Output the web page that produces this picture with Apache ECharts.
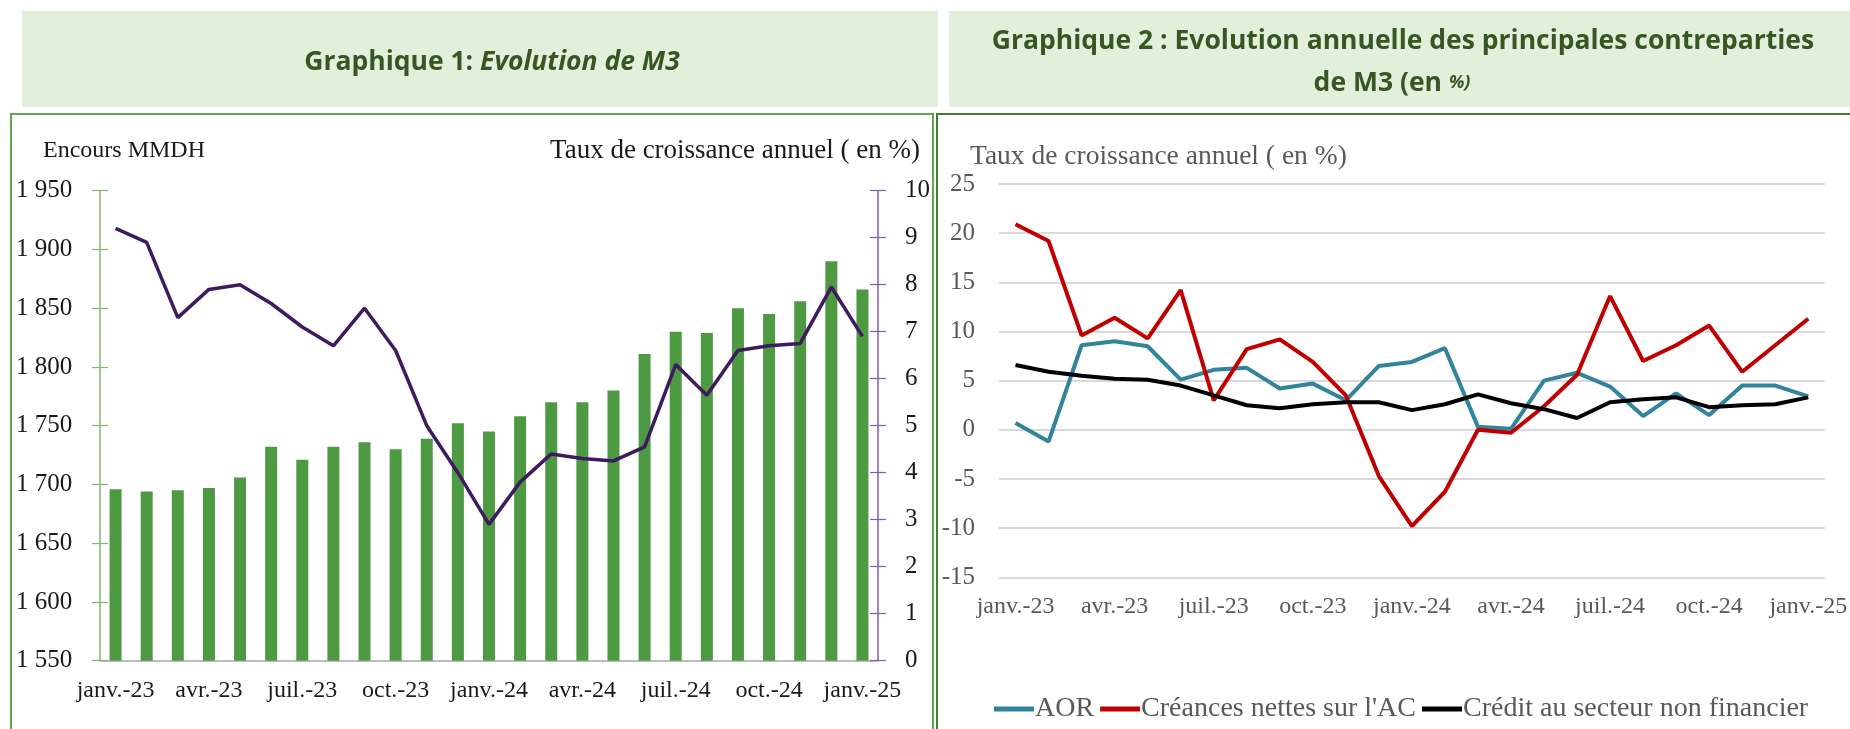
<!DOCTYPE html>
<html>
<head>
<meta charset="utf-8">
<script src="https://cdn.jsdelivr.net/npm/echarts@6/dist/echarts.min.js"></script>
<style>
html,body{margin:0;padding:0;background:#fff;}
#chart{width:1850px;height:729px;}
</style>
</head>
<body>
<div id="chart"></div>
<script>
// ---- Data ----
const categories = ['janv.-23','févr.-23','mars-23','avr.-23','mai-23','juin-23','juil.-23','août-23','sept.-23','oct.-23','nov.-23','déc.-23',
  'janv.-24','févr.-24','mars-24','avr.-24','mai-24','juin-24','juil.-24','août-24','sept.-24','oct.-24','nov.-24','déc.-24','janv.-25'];
// Graphique 1 : encours M3 (MMDH) and taux de croissance annuel (%)
const m3Encours = [1696, 1694, 1695, 1697, 1706, 1732, 1721, 1732, 1736, 1730, 1739, 1752,
  1745, 1758, 1770, 1770, 1780, 1811, 1830, 1829, 1850, 1845, 1856, 1890, 1866];
const m3Croissance = [9.2, 8.9, 7.3, 7.9, 8.0, 7.6, 7.1, 6.7, 7.5, 6.6, 5.0, 4.0,
  2.9, 3.8, 4.4, 4.3, 4.25, 4.55, 6.3, 5.65, 6.6, 6.7, 6.75, 7.95, 6.9];
// Graphique 2 : contreparties de M3 (%)
const aor = [0.7, -1.2, 8.6, 9.0, 8.5, 5.1, 6.1, 6.3, 4.2, 4.7, 3.0, 6.5,
  6.9, 8.3, 0.3, 0.1, 5.0, 5.8, 4.4, 1.4, 3.7, 1.5, 4.5, 4.5, 3.4];
const creancesAC = [20.9, 19.2, 9.6, 11.4, 9.3, 14.2, 3.0, 8.2, 9.2, 6.9, 3.5, -4.7,
  -9.8, -6.3, 0.0, -0.3, 2.4, 5.6, 13.6, 7.0, 8.6, 10.6, 5.9, 8.6, 11.3];
const creditNonFin = [6.6, 5.9, 5.5, 5.2, 5.1, 4.5, 3.5, 2.5, 2.2, 2.6, 2.8, 2.8,
  2.0, 2.6, 3.6, 2.7, 2.1, 1.2, 2.8, 3.1, 3.3, 2.3, 2.5, 2.6, 3.3];
const seriesNames = ['AOR', "Créances nettes sur l'AC", 'Crédit au secteur non financier'];
const leftTicks = {min: 1550, max: 1950, interval: 50};
const rightTicks = {min: 0, max: 10, interval: 1};
const g2Ticks = {min: -15, max: 25, interval: 5};

// ---- Styles ----
const SERIF = '"Liberation Serif", "DejaVu Serif", serif';
const SANS = '"Open Sans", "Noto Sans", sans-serif';
const TITLE_COLOR = '#375623';
const GREEN_AXIS = '#7dbb6b';
const PURPLE_AXIS = '#8060a8';
const TITLE_SIZE = 26.5;

const chart = echarts.init(document.getElementById('chart'));
const fmtThousands = v => String(v).replace(/\B(?=(\d{3})+(?!\d))/g, ' ');

const option = {
  animation: false,
  backgroundColor: '#ffffff',
  graphic: [
    {type: 'rect', z: 0, shape: {x: 22, y: 11, width: 916, height: 96}, style: {fill: '#e2efda'}},
    {type: 'rect', z: 0, shape: {x: 949, y: 11, width: 901, height: 96}, style: {fill: '#e2efda'}},
    {type: 'rect', z: 0, shape: {x: 11, y: 114, width: 922, height: 640}, style: {fill: 'none', stroke: '#5fa84b', lineWidth: 2}},
    {type: 'rect', z: 0, shape: {x: 937, y: 114, width: 930, height: 640}, style: {fill: 'none', stroke: '#3f8030', lineWidth: 2}},
    {type: 'text', x: 492, y: 62, style: {
      text: '{a|Graphique 1: }{b|Evolution de M3}', align: 'center', verticalAlign: 'middle',
      rich: {
        a: {fontFamily: SANS, fontWeight: 'bold', fontSize: TITLE_SIZE, fill: TITLE_COLOR},
        b: {fontFamily: SANS, fontWeight: 'bold', fontStyle: 'italic', fontSize: TITLE_SIZE, fill: TITLE_COLOR}
      }}},
    {type: 'text', x: 1403, y: 41, style: {
      text: 'Graphique 2 : Evolution annuelle des principales contreparties', align: 'center', verticalAlign: 'middle',
      fontFamily: SANS, fontWeight: 'bold', fontSize: TITLE_SIZE, fill: TITLE_COLOR}},
    {type: 'text', x: 1392, y: 83, style: {
      text: '{a|de M3 (en }{b|%)}', align: 'center', verticalAlign: 'middle',
      rich: {
        a: {fontFamily: SANS, fontWeight: 'bold', fontSize: TITLE_SIZE, fill: TITLE_COLOR},
        b: {fontFamily: SANS, fontWeight: 'bold', fontStyle: 'italic', fontSize: 18, fill: TITLE_COLOR}
      }}},
    {type: 'text', x: 43, y: 151, style: {text: 'Encours MMDH', fontFamily: SERIF, fontSize: 24, fill: '#1a1a1a', align: 'left', verticalAlign: 'middle'}},
    {type: 'text', x: 920, y: 151, style: {text: 'Taux de croissance annuel ( en %)', fontFamily: SERIF, fontSize: 27, fill: '#1a1a1a', align: 'right', verticalAlign: 'middle'}},
    {type: 'text', x: 970, y: 157, style: {text: 'Taux de croissance annuel ( en %)', fontFamily: SERIF, fontSize: 27.5, fill: '#595959', align: 'left', verticalAlign: 'middle'}}
  ],
  grid: [
    {left: 100, top: 190.7, width: 778, height: 470},
    {left: 999, top: 184, width: 833, height: 393.3}
  ],
  legend: {
    data: seriesNames,
    left: 989, top: 690,
    icon: 'rect', itemWidth: 40, itemHeight: 5, itemGap: 6,
    textStyle: {fontFamily: SERIF, fontSize: 28, color: '#595959', padding: [0, 0, 0, -4]}
  },
  xAxis: [
    {gridIndex: 0, type: 'category', data: categories, boundaryGap: true,
      axisLine: {lineStyle: {color: '#a6a6a6', width: 1.5}},
      axisTick: {interval: 1, length: 8, lineStyle: {color: '#a6a6a6', width: 1.2}},
      axisLabel: {interval: 2, margin: 18, fontFamily: SERIF, fontSize: 24, color: '#1a1a1a'}},
    {gridIndex: 0, type: 'category', data: categories, boundaryGap: true, position: 'bottom',
      axisLine: {show: false},
      axisTick: {inside: true, interval: 1, length: 7, lineStyle: {color: '#a6a6a6', width: 1.2}},
      axisLabel: {show: false}},
    {gridIndex: 1, type: 'category', data: categories, boundaryGap: true,
      axisLine: {show: false}, axisTick: {show: false},
      axisLabel: {interval: 2, margin: 17, fontFamily: SERIF, fontSize: 24, color: '#595959'}}
  ],
  yAxis: [
    {gridIndex: 0, type: 'value', position: 'left', ...leftTicks,
      axisLine: {show: true, lineStyle: {color: GREEN_AXIS, width: 1.5}},
      axisTick: {show: true, length: 8, lineStyle: {color: GREEN_AXIS, width: 1.2}},
      splitLine: {show: false},
      axisLabel: {margin: 84, align: 'left', formatter: fmtThousands, fontFamily: SERIF, fontSize: 25, color: '#1a1a1a'}},
    {gridIndex: 0, type: 'value', position: 'left', ...leftTicks,
      axisLine: {show: false}, splitLine: {show: false}, axisLabel: {show: false},
      axisTick: {show: true, inside: true, length: 8, lineStyle: {color: GREEN_AXIS, width: 1.2}}},
    {gridIndex: 0, type: 'value', position: 'right', ...rightTicks,
      axisLine: {show: true, lineStyle: {color: PURPLE_AXIS, width: 1.5}},
      axisTick: {show: true, length: 8, lineStyle: {color: PURPLE_AXIS, width: 1.2}},
      splitLine: {show: false},
      axisLabel: {margin: 27, align: 'left', fontFamily: SERIF, fontSize: 25, color: '#1a1a1a'}},
    {gridIndex: 0, type: 'value', position: 'right', ...rightTicks,
      axisLine: {show: false}, splitLine: {show: false}, axisLabel: {show: false},
      axisTick: {show: true, inside: true, length: 8, lineStyle: {color: PURPLE_AXIS, width: 1.2}}},
    {gridIndex: 1, type: 'value', ...g2Ticks,
      axisLine: {show: false}, axisTick: {show: false},
      splitLine: {show: true, lineStyle: {color: '#d9d9d9', width: 2}},
      axisLabel: {margin: 24, align: 'right', fontFamily: SERIF, fontSize: 25, color: '#595959'}}
  ],
  series: [
    {name: 'Encours M3', type: 'bar', xAxisIndex: 0, yAxisIndex: 0, data: m3Encours,
      barWidth: 12, itemStyle: {color: '#4e9a43'}},
    {name: 'Taux de croissance annuel', type: 'line', xAxisIndex: 0, yAxisIndex: 2, data: m3Croissance,
      symbol: 'none', lineStyle: {color: '#3e1a5e', width: 3.5}, itemStyle: {color: '#3e1a5e'}},
    {name: seriesNames[0], type: 'line', xAxisIndex: 2, yAxisIndex: 4, data: aor,
      symbol: 'none', lineStyle: {color: '#31849b', width: 4}, itemStyle: {color: '#31849b'}},
    {name: seriesNames[1], type: 'line', xAxisIndex: 2, yAxisIndex: 4, data: creancesAC,
      symbol: 'none', lineStyle: {color: '#c00000', width: 4}, itemStyle: {color: '#c00000'}},
    {name: seriesNames[2], type: 'line', xAxisIndex: 2, yAxisIndex: 4, data: creditNonFin,
      symbol: 'none', lineStyle: {color: '#000000', width: 4}, itemStyle: {color: '#000000'}}
  ]
};
chart.setOption(option);
</script>
</body>
</html>
